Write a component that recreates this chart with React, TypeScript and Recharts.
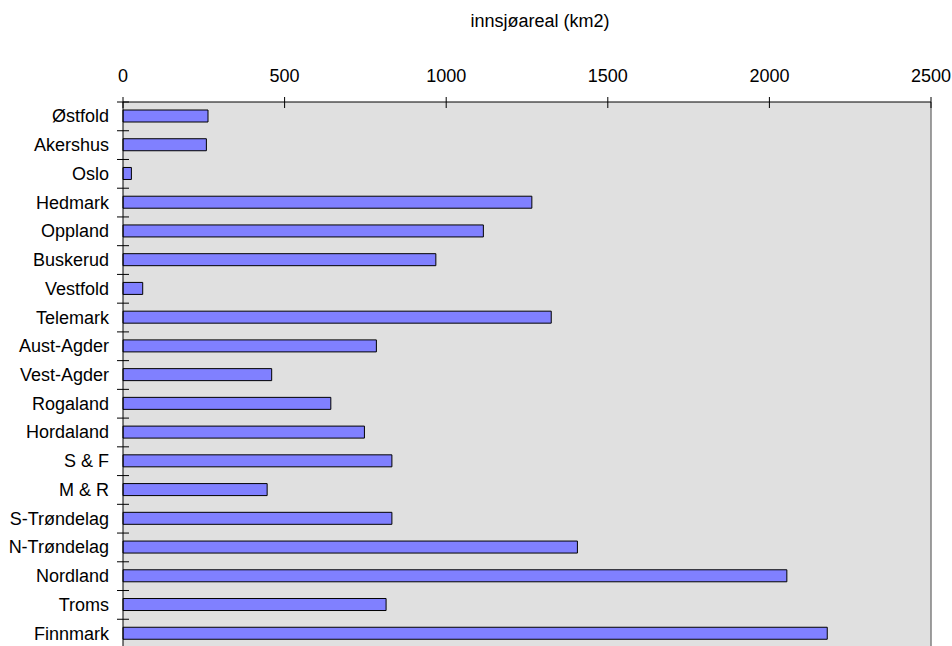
import { BarChart, Bar, XAxis, YAxis, CartesianGrid, ReferenceLine } from "recharts";

const counties = [
  "Østfold",
  "Akershus",
  "Oslo",
  "Hedmark",
  "Oppland",
  "Buskerud",
  "Vestfold",
  "Telemark",
  "Aust-Agder",
  "Vest-Agder",
  "Rogaland",
  "Hordaland",
  "S & F",
  "M & R",
  "S-Trøndelag",
  "N-Trøndelag",
  "Nordland",
  "Troms",
  "Finnmark",
];

const lakeArea = [
  263, 258, 26, 1265, 1115, 968, 61, 1325, 784, 460, 643, 747, 832, 446, 832,
  1406, 2054, 814, 2179,
];

const xTicks = [0, 500, 1000, 1500, 2000, 2500];
const axisTitle = "innsjøareal (km2)";

const WIDTH = 952;
const HEIGHT = 648;
const TOP = 102;
const LEFT = 123;
const RIGHT = 21;
const BAND = (HEIGHT - TOP) / counties.length;
const FONT = "'Liberation Sans', Arial, sans-serif";

const data = counties.map((name, i) => ({ name, area: lakeArea[i] }));

function XTick({ x, y, payload }: any) {
  return (
    <g>
      <line x1={x} x2={x} y1={y - 5} y2={y + 6} stroke="#000" />
      <text x={x} y={y - 20} textAnchor="middle" fontSize={18} fontFamily={FONT} fill="#000">
        {payload.value}
      </text>
    </g>
  );
}

function YTick({ x, y, payload }: any) {
  return (
    <g>
      <line x1={x - 6} x2={x + 6} y1={y - BAND / 2} y2={y - BAND / 2} stroke="#000" />
      <text x={x - 14} y={y + 6} textAnchor="end" fontSize={18} fontFamily={FONT} fill="#000">
        {payload.value}
      </text>
    </g>
  );
}

function TitleLabel({ viewBox }: any) {
  const cx = LEFT + (WIDTH - LEFT - RIGHT) / 2 + 13;
  return (
    <text x={cx} y={27} textAnchor="middle" fontSize={18} fontFamily={FONT} fill="#000">
      {axisTitle}
    </text>
  );
}

export default function App() {
  return (
    <div
      style={{
        position: "absolute",
        left: 0,
        top: 0,
        width: WIDTH,
        height: 646,
        overflow: "hidden",
        background: "#fff",
      }}
    >
      <BarChart
        width={WIDTH}
        height={HEIGHT}
        data={data}
        layout="vertical"
        margin={{ top: 0, right: RIGHT, left: 0, bottom: 0 }}
        barSize={12}
      >
        <CartesianGrid fill="#e0e0e0" horizontal={false} vertical={false} stroke="none" />
        <XAxis
          type="number"
          orientation="top"
          domain={[0, 2500]}
          ticks={xTicks}
          height={TOP}
          axisLine={{ stroke: "#000" }}
          tickLine={false}
          tickSize={0}
          tickMargin={0}
          tick={<XTick />}
          interval={0}
          label={<TitleLabel />}
        />
        <YAxis
          type="category"
          dataKey="name"
          width={LEFT}
          axisLine={{ stroke: "#000" }}
          tickLine={false}
          tickSize={0}
          tickMargin={0}
          tick={<YTick />}
          interval={0}
        />
        <ReferenceLine x={2500} stroke="#808080" strokeWidth={1.5} />
        <Bar dataKey="area" fill="#8080ff" stroke="#000" strokeWidth={1} isAnimationActive={false} />
      </BarChart>
    </div>
  );
}
